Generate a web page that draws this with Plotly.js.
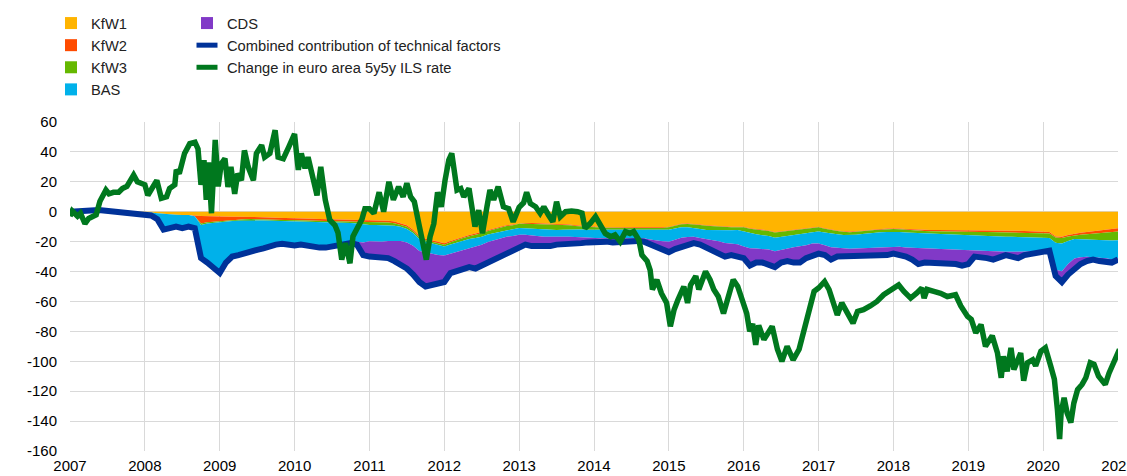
<!DOCTYPE html>
<html>
<head>
<meta charset="utf-8">
<script src="https://cdn.plot.ly/plotly-3.0.1.min.js"></script>
<style>html,body{margin:0;padding:0;background:#fff;}#chart{width:1127px;height:476px;}</style>
</head>
<body>
<div id="chart"></div>
<script>
// Monthly observations, January 2007 to January 2021 (basis points)
const startYear = 2007;
const kfw1 = [
 0,0,0,0,0,0,0,0,0,0,0,0,
 -0.3,-0.5,-1,-1.5,-1.8,-2,-2.2,-2.2,-2.5,-2.8,-3,-3.2,
 -3.3,-3.3,-3.3,-3.3,-3.3,-3.3,-3.5,-3.6,-3.8,-4,-4.2,-4.3,
 -4.4,-4.5,-4.6,-4.7,-4.8,-4.9,-5,-5,-5,-5.2,-5.3,-5.5,
 -5.5,-5.6,-5.8,-6,-6.5,-7.5,-9,-12,-16,-18,-19,-20,
 -21,-19.5,-18,-16.7,-15.5,-14.5,-13.3,-12,-11,-10,-9,-8.5,
 -7.5,-7.5,-7.6,-7.7,-7.8,-7.8,-8,-8.3,-8.6,-9,-9.4,-9.7,
 -10,-10.2,-10.3,-10.4,-10.4,-10.4,-10.4,-10.4,-10.4,-10.5,-10.5,-10.4,
 -10,-9,-8,-7.8,-8,-8.5,-9,-9.3,-9.5,-9.8,-10,-10,
 -10,-11,-11.5,-12,-12.5,-13.5,-13,-12.5,-12,-11.5,-11,-10.5,
 -10,-11,-12,-12.5,-13,-13.3,-13,-12.5,-12,-11.8,-11.5,-11.2,
 -11,-11.2,-11.5,-11.8,-12,-12.2,-12.2,-12.2,-12.2,-12.2,-12.2,-12.2,
 -12.2,-12.3,-12.4,-12.5,-12.6,-12.7,-12.7,-12.7,-12.8,-12.9,-13,-13.2,
 -13.3,-13.5,-16.5,-16.7,-15.5,-14.5,-14,-13.5,-13,-12.5,-12,-11.5,
 -11
];
const kfw2 = [
 0,0,0,0,0,0,0,0,0,0,0,0,
 0,0,0,0,0,0,0,0,-0.5,-5,-4,-3.5,
 -2.7,-2.3,-2,-1.8,-1.7,-1.6,-1.5,-1.4,-1.3,-1.2,-1.1,-1.1,
 -1.2,-1.2,-1.2,-1.2,-1.2,-1.2,-1.2,-1.2,-1.2,-1.2,-1.2,-1.3,
 -1.3,-1.3,-1.2,-1.2,-1.2,-1.1,-1,-1,-1,-1,-1,-1,
 -1,-0.9,-0.8,-0.8,-0.9,-1,-1.1,-0.9,-0.8,-0.7,-0.6,-0.6,
 -0.6,-0.6,-0.6,-0.6,-0.6,-0.6,-0.6,-0.6,-0.5,-0.5,-0.5,-0.5,
 -0.4,-0.4,-0.4,-0.4,-0.4,-0.4,-0.4,-0.4,-0.4,-0.4,-0.4,-0.4,
 -0.4,-0.4,-0.4,-0.4,-0.4,-0.4,-0.4,-0.4,-0.4,-0.4,-0.4,-0.4,
 -0.4,-0.4,-0.4,-0.4,-0.4,-0.4,-0.4,-0.4,-0.4,-0.4,-0.4,-0.4,
 -0.4,-0.4,-0.4,-0.4,-0.4,-0.4,-0.4,-0.4,-0.4,-0.4,-0.5,-0.5,
 -0.5,-0.5,-0.6,-0.6,-0.7,-0.7,-0.8,-0.8,-0.9,-0.9,-1,-1.1,
 -1.1,-1.1,-1.1,-1.1,-1.1,-1.1,-1.1,-1.1,-1.1,-1.1,-1.1,-1.1,
 -1.1,-1.1,-0.8,-0.8,-1,-1.2,-1.4,-1.6,-1.8,-2,-2.1,-2.2,
 -2.3
];
const kfw3 = [
 0,0,0,0,0,0,0,0,0,0,0,0,
 0,0,0,0,0,0,0,0,0,-1,-0.8,-0.6,
 -0.7,-0.8,-0.9,-0.9,-0.8,-0.8,-0.8,-0.8,-0.8,-0.8,-0.8,-0.8,
 -0.8,-0.8,-0.8,-0.8,-0.9,-0.9,-1,-1,-1,-1.2,-1.4,-1.8,
 -2,-2,-2,-1.8,-1.6,-1.5,-1.5,-1.3,-1.2,-1.1,-1,-1,
 -1.3,-1.5,-1.8,-1.5,-1.8,-2,-2.3,-2.4,-2.5,-2.6,-2.6,-2.6,
 -2.8,-3,-3.2,-3.5,-3.8,-3.8,-3.6,-3.2,-2.8,-2.4,-2,-1.8,
 -1.6,-1.5,-1.4,-1.4,-1.4,-1.4,-1.4,-1.4,-1.4,-1.4,-1.4,-1.4,
 -1.6,-1.8,-2,-2.2,-2.4,-2.6,-2.8,-2.6,-2.4,-2.2,-2,-1.8,
 -2.8,-3,-3.2,-3.3,-3.4,-3.5,-3.5,-3.4,-3.3,-3.2,-3,-2.8,
 -2.8,-2.5,-2.3,-2.2,-2.1,-2,-2,-2,-2,-1.9,-1.8,-1.8,
 -1.8,-1.8,-1.8,-1.7,-1.6,-1.6,-1.7,-1.8,-1.9,-2,-2.1,-2.2,
 -2.3,-2.4,-2.5,-2.6,-2.7,-2.8,-2.9,-3,-3,-3,-3,-3,
 -3,-3,-3.5,-3.8,-3,-2.6,-3,-3.5,-4,-4.5,-5,-5.5,
 -5.7
];
const bas = [
 0,0,0,0,0,0,0,-0.5,-1,-1.5,-2,-2,
 -1.9,-2,-4,-10.5,-8.9,-7.5,-8,-7,-7.2,-21.7,-25.7,-30.2,
 -33.8,-26.8,-22.6,-21.5,-20.2,-19.5,-18.5,-17.7,-16.1,-15.2,-14.6,-15.5,
 -15.3,-14.7,-15.6,-16,-16.3,-16.2,-15.5,-14,-13.5,-12.4,-12.1,-12,
 -11,-11,-11,-10.5,-10,-9.5,-9,-8.5,-8,-7,-7,-7,
 -6,-6.2,-6.3,-6.5,-6,-5.7,-5.3,-5,-4.8,-4.5,-4.5,-4.5,
 -4.5,-4.3,-4.5,-4.5,-4.5,-4.5,-4.4,-4.5,-4.8,-5,-5.3,-5.5,
 -5.6,-5.6,-5.6,-5.8,-5.8,-5.6,-5.6,-5.4,-5.6,-6.3,-7,-7.5,
 -8,-7.5,-7,-6.5,-6,-6,-6,-6.5,-7.5,-8.5,-9,-9.5,
 -10,-10,-9.5,-9,-9,-9,-8.5,-8,-8,-8,-8,-7.5,
 -8,-8.5,-9,-9,-9,-9,-9.2,-9.5,-9.8,-10,-10,-10,
 -10,-10,-10,-10,-10,-10,-10,-10,-10,-10,-10,-10,
 -10,-10,-10,-10,-10,-10,-10,-10,-10,-10,-9.5,-9,
 -8,-7.5,-18,-18.5,-15.5,-13,-12,-11.5,-11.5,-12,-12,-12.5,
 -12
];
const cds = [
 0,0,0,0,0,0,0,0,0,0,0,0,
 0,0,0,0,-0.3,-0.5,-0.8,-0.8,-0.8,-0.5,-0.5,-0.5,
 -0.5,-0.8,-1.2,-1.5,-1.5,-1.3,-1.2,-1,-1,-0.8,-0.8,-0.8,
 -0.8,-0.8,-0.8,-0.8,-0.8,-0.8,-0.8,-0.8,-0.8,-1,-2,-8.4,
 -10.2,-10.1,-10,-11.5,-13.7,-15.4,-17.5,-19.2,-20.8,-22.9,-21,-20,
 -17.7,-12.9,-13.1,-13.5,-12.8,-14.8,-14,-13.7,-11.9,-11.2,-10.3,-8.8,
 -7.6,-6.6,-7.1,-6.7,-6.8,-6.3,-5.4,-5.4,-4.8,-4.1,-3.8,-3,
 -2.4,-2.3,-2.3,-2.5,-2,-2.2,-2.2,-1.9,-2.2,-3.4,-4.7,-6.3,
 -7,-6.3,-6.6,-5.1,-4.2,-4.5,-5.8,-6.7,-7.2,-9.1,-7.6,-8.3,
 -7.8,-11.6,-9.4,-9.3,-10.7,-10.6,-8.6,-8.7,-10.3,-10.9,-8.6,-7.8,
 -6.8,-6.6,-8.3,-5.9,-5.5,-5.3,-5.4,-4.6,-4.8,-4.9,-5.2,-5.5,
 -4.7,-5,-6.1,-7.9,-10.7,-9.5,-9.3,-9.2,-9,-8.9,-9.7,-10.5,
 -9.4,-4.2,-4,-4.8,-5.6,-3.4,-2.3,-3.2,-4.1,-2,-1.4,-1.7,
 -1.6,-0.9,-4.2,-7.2,-7,-6.7,-4.6,-2.9,-1.7,-2,-1.9,-2.3,
 -1
];
const combined = [
 0,0.5,1,1,1,1,0.5,-0.5,-1,-1.5,-2,-2,
 -2.2,-2.5,-5,-12,-11,-10,-11,-10,-11,-31,-34,-38,
 -41,-34,-30,-29,-27.5,-26.5,-25.5,-24.5,-23,-22,-21.5,-22.5,
 -22.5,-22,-23,-23.5,-24,-24,-23.5,-22,-21.5,-21,-22,-29,
 -30,-30,-30,-31,-33,-35,-38,-42,-47,-50,-49,-49,
 -47,-41,-40,-39,-37,-38,-36,-34,-31,-29,-27,-25,
 -23,-22,-23,-23,-23.5,-23,-22,-22,-21.5,-21,-21,-20.5,
 -20,-20,-20,-20.5,-20,-20,-20,-19.5,-20,-22,-24,-26,
 -27,-25,-24,-22,-21,-22,-24,-25.5,-27,-30,-29,-30,
 -31,-36,-34,-34,-36,-37,-34,-33,-34,-34,-31,-29,
 -28,-29,-32,-30,-30,-30,-30,-29,-29,-29,-29,-29,
 -28,-28.5,-30,-32,-35,-34,-34,-34,-34,-34,-35,-36,
 -35,-30,-30,-31,-32,-30,-29,-30,-31,-29,-28,-28,
 -27,-26,-43,-47,-42,-38,-35,-33,-32,-33,-33,-34,
 -32
];
// Change in euro area 5y5y ILS rate (decimal year, basis points)
const ilsYears = [
 2007.00,2007.03,2007.06,2007.10,2007.14,2007.20,2007.25,2007.30,2007.35,2007.40,2007.45,2007.48,2007.52,2007.58,2007.65,2007.70,2007.76,2007.80,2007.85,2007.90,2007.95,
 2008.00,2008.04,2008.10,2008.16,2008.22,2008.29,2008.33,2008.40,2008.42,2008.46,2008.53,2008.60,2008.67,2008.71,2008.75,2008.79,2008.82,2008.85,2008.89,2008.92,2008.94,2008.98,
 2009.02,2009.07,2009.11,2009.15,2009.20,2009.24,2009.29,2009.33,2009.38,2009.45,2009.49,2009.56,2009.60,2009.67,2009.74,2009.78,2009.85,2009.92,
 2010.00,2010.03,2010.05,2010.09,2010.14,2010.18,2010.25,2010.30,2010.35,2010.41,2010.47,2010.54,2010.58,2010.63,2010.68,2010.74,2010.78,2010.84,2010.90,2010.94,
 2011.00,2011.06,2011.13,2011.19,2011.26,2011.32,2011.39,2011.45,2011.50,2011.55,2011.60,2011.66,2011.70,2011.76,2011.81,2011.86,2011.91,2011.96,
 2012.01,2012.06,2012.10,2012.13,2012.17,2012.22,2012.26,2012.33,2012.37,2012.41,2012.46,2012.51,2012.57,2012.61,2012.66,2012.72,2012.79,2012.86,2012.92,
 2013.00,2013.06,2013.10,2013.15,2013.22,2013.28,2013.33,2013.39,2013.45,2013.50,2013.55,2013.62,2013.70,2013.78,2013.84,2013.88,2013.95,
 2014.02,2014.08,2014.15,2014.22,2014.28,2014.35,2014.42,2014.48,2014.53,2014.60,2014.64,2014.71,2014.75,2014.78,2014.84,2014.90,2014.97,
 2015.02,2015.07,2015.12,2015.20,2015.25,2015.29,2015.36,2015.40,2015.49,2015.55,2015.60,2015.66,2015.73,2015.80,2015.86,2015.92,2015.97,
 2016.04,2016.08,2016.12,2016.16,2016.20,2016.27,2016.38,2016.45,2016.51,2016.58,2016.66,2016.74,2016.80,2016.87,2016.94,
 2017.00,2017.08,2017.14,2017.20,2017.25,2017.31,2017.38,2017.46,2017.52,2017.60,2017.69,2017.78,2017.87,2017.98,
 2018.07,2018.14,2018.23,2018.31,2018.38,2018.41,2018.45,2018.54,2018.63,2018.72,2018.83,2018.90,2018.99,
 2019.04,2019.10,2019.17,2019.23,2019.32,2019.39,2019.44,2019.47,2019.52,2019.57,2019.61,2019.66,2019.70,2019.74,2019.79,2019.86,2019.90,2019.97,
 2020.03,2020.10,2020.15,2020.19,2020.22,2020.24,2020.28,2020.32,2020.37,2020.41,2020.46,2020.52,2020.57,2020.63,2020.68,2020.74,2020.83,2020.88,2020.95,2020.99,2021.02
];
const ilsValues = [
 -3,0.5,-1,-3,-1,-8,-4.5,-3,-2,7,12,14.5,12,13,13,15.5,17,20,24.5,20,19,
 18,11,16.5,21,9,10,15.5,18,28,25.5,39,45.5,46.5,42,18,34.5,8,33,-1,28,48,17,
 32,35.5,16.5,30,12,25.5,21,41,30,21,39,44.5,36.5,39,54.5,36.5,35.5,43,
 52,37,28,39,29,36.5,19,11,30,8,-5.5,-9,-14,-32,-21,-34.5,-16.5,-10,-5,2,
 2,-1,13,0,20,8,16.7,10,19,10,6.7,-8,-19,-32,-16.7,-8,13,3.3,
 21,34.5,39,30,14.5,15.5,10,15.5,3.3,-10,1,-14.5,3.3,14.5,8,16.7,3.3,2,-6.7,
 3,6,13,5.5,3.3,-1,3.3,-2,-6.7,6.7,-3.3,0,0.5,0,-1,-11,-7.8,
 -3.3,-7.8,-14.5,-16.7,-15.5,-20,-13.3,-14.5,-13.3,-19,-29,-33,-39,-52,-45.5,-54.5,-61,
 -76.7,-65.5,-59,-50,-61,-49,-43,-52,-40,-45.5,-52,-56.7,-68,-56.7,-45.5,-50,-56.7,
 -68,-80,-75,-89,-76,-85.5,-76.7,-92,-100,-90,-99,-92,-81,-65.5,-53.3,
 -51,-46.7,-52,-61,-69,-61,-68,-74.5,-66.7,-65.5,-63,-60,-55.5,-52,
 -49,-53.3,-57.8,-54.5,-51,-57.8,-52,-53.3,-54.5,-56.7,-55.5,-63,-70,
 -72,-81,-75.5,-90,-83,-94.5,-111,-96.7,-106.7,-91,-105.5,-99,-94.5,-113,-101,-99,-103,-93.3,
 -91,-103,-112,-132,-152,-134.5,-124.5,-134.5,-141,-128,-119,-115.5,-111,-101,-102,-110,-115.5,-108,-101,-96.7,-92
];
const yearTicks = [2007,2008,2009,2010,2011,2012,2013,2014,2015,2016,2017,2018,2019,2020,2021];
const valueTicks = [60,40,20,0,-20,-40,-60,-80,-100,-120,-140,-160];

const colors = {kfw1:'#FFB400', kfw2:'#FF4B00', kfw3:'#65B800', bas:'#00B1EA', cds:'#8139C7', comb:'#003299', ils:'#00781E'};
const months = combined.map((_, i) => startYear + i / 12);

function area(y, color, name) {
  return {type:'scatter', mode:'lines', x: months, y: y, stackgroup:'tech',
          line:{width:0, color: color}, fillcolor: color, name: name, showlegend:false, hoverinfo:'skip'};
}
function proxy(name, color, legend, isLine) {
  return {type:'scatter', mode:'markers', x:[null], y:[null], name: name, legend: legend, legendgroup: name,
          marker: isLine ? {symbol:'line-ew', size:15, color: color, line:{width:5, color: color}}
                         : {symbol:'square', size:12, color: color, line:{width:0}},
          hoverinfo:'skip'};
}

const traces = [
  area(kfw1, colors.kfw1, 'KfW1'),
  area(kfw2, colors.kfw2, 'KfW2'),
  area(kfw3, colors.kfw3, 'KfW3'),
  area(bas, colors.bas, 'BAS'),
  area(cds, colors.cds, 'CDS'),
  {type:'scatter', mode:'lines', x: months, y: combined, line:{color: colors.comb, width:6},
   name:'Combined contribution of technical factors', showlegend:false},
  {type:'scatter', mode:'lines', x: ilsYears, y: ilsValues, line:{color: colors.ils, width:5.5},
   name:'Change in euro area 5y5y ILS rate', showlegend:false},
  proxy('KfW1', colors.kfw1, 'legend', false),
  proxy('KfW2', colors.kfw2, 'legend', false),
  proxy('KfW3', colors.kfw3, 'legend', false),
  proxy('BAS', colors.bas, 'legend', false),
  proxy('CDS', colors.cds, 'legend2', false),
  proxy('Combined contribution of technical factors', colors.comb, 'legend2', true),
  proxy('Change in euro area 5y5y ILS rate', colors.ils, 'legend2', true)
];

const fam = '"Liberation Sans", Arial, sans-serif';
const font = {family: fam, size:15, color:'#000'};
const legendBase = {orientation:'v', xref:'container', yref:'container', xanchor:'left', yanchor:'top',
  traceorder:'normal', bgcolor:'rgba(0,0,0,0)', borderwidth:0, tracegroupgap:1,
  itemclick:false, itemdoubleclick:false,
  font:{family: fam, size:14.7, color:'#222'}};

const layout = {
  width:1127, height:476,
  margin:{l:70, r:9, t:122, b:25, pad:0, autoexpand:false},
  paper_bgcolor:'#fff', plot_bgcolor:'#fff',
  font: font,
  showlegend:true,
  legend: Object.assign({}, legendBase, {x:51/1127, y:1 - 7/476}),
  legend2: Object.assign({}, legendBase, {x:187/1127, y:1 - 7/476}),
  xaxis:{type:'linear', range:[2007, 2021], tickmode:'array', tickvals: yearTicks, ticktext: yearTicks.map(String),
         showgrid:true, gridcolor:'#d9d9d9', gridwidth:1, zeroline:false, showline:false, ticks:'',
         ticklabelstandoff:4, ticklabeloverflow:'allow', tickfont: font, fixedrange:true},
  yaxis:{range:[-160, 60], tickmode:'array', tickvals: valueTicks, ticktext: valueTicks.map(String),
         showgrid:true, gridcolor:'#d9d9d9', gridwidth:1,
         zeroline:true, zerolinecolor:'#d9d9d9', zerolinewidth:1, showline:false, ticks:'',
         ticklabelstandoff:12, tickfont: font, fixedrange:true}
};

Plotly.newPlot('chart', traces, layout, {displayModeBar:false, staticPlot:true});
</script>
</body>
</html>
